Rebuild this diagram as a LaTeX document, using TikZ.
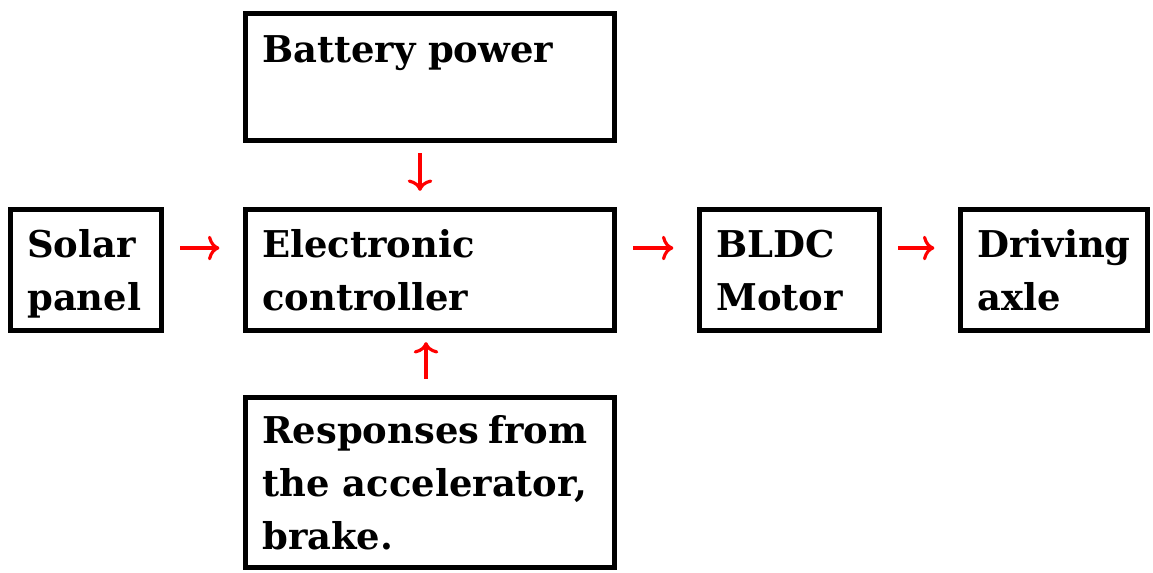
\documentclass[tikz,border=0pt]{standalone}
\usepackage{fontspec}
\setmainfont{DejaVu Serif}
\usetikzlibrary{arrows.meta,calc}

\begin{document}
\begin{tikzpicture}[x=0.02cm,y=-0.02cm,
  blk/.style={draw,line width=3pt,inner sep=0pt},
  txt/.style={anchor=base west,inner sep=0pt,align=left,text width=6.5cm,
    font=\bfseries\fontsize{21}{30}\selectfont},
  flow/.style={draw=red,line width=1.8pt,-{To[length=6.5pt,width=14pt]}}]
\useasboundingbox (0,0) rectangle (1153,572);
% 方框（像素坐标）
\node[blk,minimum width=7.38cm,minimum height=2.54cm] (bat) at (430,77) {};
\node[blk,minimum width=3.02cm,minimum height=2.42cm] (solar) at (86,270) {};
\node[blk,minimum width=7.38cm,minimum height=2.42cm] (ctrl) at (430,270) {};
\node[blk,minimum width=3.60cm,minimum height=2.42cm] (bldc) at (789.5,270) {};
\node[blk,minimum width=3.74cm,minimum height=2.42cm] (axle) at (1054,270) {};
\node[blk,minimum width=7.38cm,minimum height=3.40cm] (resp) at (430,482.5) {};
% 文字（左上对齐）
\node[txt] (batT) at ($(bat.north west)+(19,52)$) {Battery power};
\node[txt] (solarT) at ($(solar.north west)+(19,51)$) {Solar\\panel};
\node[txt] (ctrlT) at ($(ctrl.north west)+(19,51)$) {Electronic\\controller};
\node[txt] (bldcT) at ($(bldc.north west)+(19,51)$) {BLDC\\Motor};
\node[txt] (axleT) at ($(axle.north west)+(19,51)$) {Driving\\axle};
\node[txt] (respT) at ($(resp.north west)+(19,49)$)
  {Responses\hfill from\\the\hfill accelerator,\\brake.};
% 红色箭头
\draw[flow,shorten <=0.32cm,shorten >=0.47cm] ([yshift=0.44cm]solar.east) -- ([yshift=0.44cm]ctrl.west);
\draw[flow,shorten <=0.32cm,shorten >=0.47cm] ([yshift=0.44cm]ctrl.east) -- ([yshift=0.44cm]bldc.west);
\draw[flow,shorten <=0.32cm,shorten >=0.47cm] ([yshift=0.44cm]bldc.east) -- ([yshift=0.44cm]axle.west);
\draw[flow,shorten <=0.2cm,shorten >=0.32cm] ([xshift=-0.2cm]bat.south) -- ([xshift=-0.2cm]ctrl.north);
\draw[flow,shorten <=0.32cm,shorten >=0.18cm] ([xshift=-0.08cm]resp.north) -- ([xshift=-0.08cm]ctrl.south);
\end{tikzpicture}
\end{document}
